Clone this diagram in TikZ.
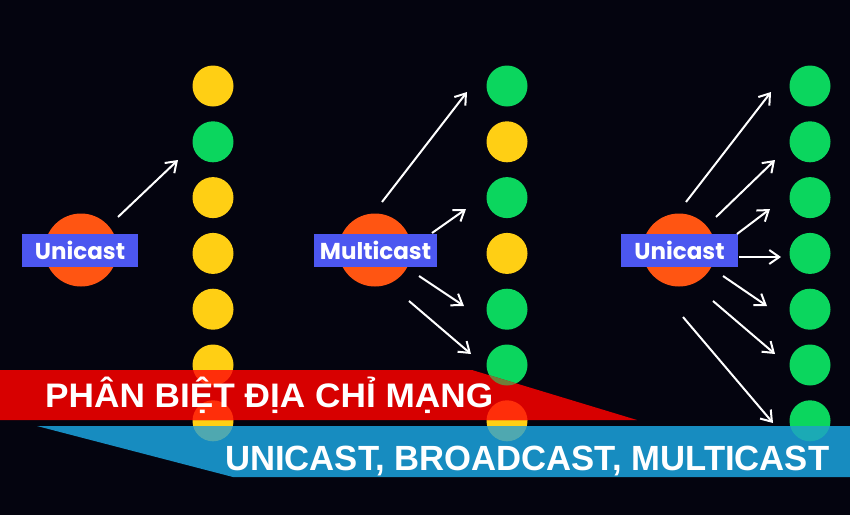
\documentclass[tikz,border=0pt]{standalone}
\usepackage{fontspec}
\usepackage{graphicx}
\usetikzlibrary{arrows.meta}
\newfontfamily\bannerfont{Liberation Sans}
\newfontfamily\lblfont{Poppins}
\definecolor{bgc}{HTML}{04040F}
\definecolor{dotY}{HTML}{FFCF14}
\definecolor{dotG}{HTML}{0BD65E}
\definecolor{srcO}{HTML}{FF5512}
\definecolor{lblB}{HTML}{4C57F0}
\definecolor{banR}{HTML}{D70000}
\definecolor{banB}{HTML}{178CC0}
\definecolor{YonR}{HTML}{FF2E0A}
\definecolor{GonR}{HTML}{6E7E3A}
\definecolor{YonB}{HTML}{4FA8B0}
\definecolor{GonB}{HTML}{1BAAB5}
\tikzset{
  dot/.style={circle, minimum size=41pt, inner sep=0pt, fill=#1},
  src/.style={circle, minimum size=73pt, inner sep=0pt, fill=srcO},
  lbl/.style={fill=lblB, text=white, minimum height=33pt, inner sep=0pt, font=\lblfont\bfseries\fontsize{23}{26}\selectfont},
  arr/.style={white, line width=2pt, -{Straight Barb[length=10pt,width=14pt,line width=2pt]}},
  bantext/.style={text=white, inner sep=0pt, anchor=base west}
}
\begin{document}
\begin{tikzpicture}[x=1pt,y=-1pt]
\fill[bgc] (0,0) rectangle (850,515);
\useasboundingbox (0,0) rectangle (850,515);
% dot columns
\foreach \c/\i in {dotY/1,dotG/2,dotY/3,dotY/4,dotY/5,dotY/6,dotY/7}{
  \node[dot=\c] (L\i) at (213,{86+55.8*(\i-1)}) {};}
\foreach \c/\i in {dotG/1,dotY/2,dotG/3,dotY/4,dotG/5,dotG/6,dotY/7}{
  \node[dot=\c] (M\i) at (507,{86+55.8*(\i-1)}) {};}
\foreach \i in {1,...,7}{
  \node[dot=dotG] (R\i) at (810,{86+55.8*(\i-1)}) {};}
% sources
\node[src] (SL) at (81,250) {};
\node[src] (SM) at (375,250) {};
\node[src] (SR) at (679,250) {};
\node[lbl, minimum width=116pt] (TL) at (80,250.5) {Unicast};
\node[lbl, minimum width=123pt] (TM) at (375.5,250.5) {Multicast};
\node[lbl, minimum width=117pt] (TR) at (679.5,250.5) {Unicast};
% arrows left
\coordinate (l1s) at (118,217); \coordinate (l1e) at (178,160);
\draw[arr] (l1s) -- (l1e);
% arrows middle
\coordinate (m1s) at (382,202); \coordinate (m1e) at (467,92);
\coordinate (m2s) at (432,233); \coordinate (m2e) at (466,209);
\coordinate (m3s) at (419,276); \coordinate (m3e) at (464,306);
\coordinate (m4s) at (409,301); \coordinate (m4e) at (471,354);
\foreach \k in {1,...,4}{\draw[arr] (m\k s) -- (m\k e);}
% arrows right
\coordinate (r1s) at (686,202); \coordinate (r1e) at (771,92);
\coordinate (r2s) at (716,217); \coordinate (r2e) at (775,160);
\coordinate (r3s) at (737,234); \coordinate (r3e) at (770,209);
\coordinate (r4s) at (739,257); \coordinate (r4e) at (781,257);
\coordinate (r5s) at (723,276); \coordinate (r5e) at (767,306);
\coordinate (r6s) at (713,301); \coordinate (r6e) at (775,354);
\coordinate (r7s) at (683,317); \coordinate (r7e) at (773,423);
\foreach \k in {1,...,7}{\draw[arr] (r\k s) -- (r\k e);}
% banners
\fill[banR] (0,370) -- (472,370) -- (637,420) -- (0,420) -- cycle;
\begin{scope}
  \clip (0,370) -- (472,370) -- (637,420) -- (0,420) -- cycle;
  \fill[YonR] (L6) circle (20.5pt);
  \fill[YonR] (L7) circle (20.5pt);
  \fill[GonR] (M6) circle (20.5pt);
  \fill[YonR] (M7) circle (20.5pt);
\end{scope}
\fill[banB] (37,426) -- (850,426) -- (850,477) -- (233,477) -- cycle;
\begin{scope}
  \clip (37,426) -- (850,426) -- (850,477) -- (233,477) -- cycle;
  \fill[YonB] (L7) circle (20.5pt);
  \fill[YonB] (M7) circle (20.5pt);
  \fill[GonB] (R7) circle (20.5pt);
\end{scope}
\node[bantext] (T1) at (45,407) {\resizebox{448pt}{\height}{\bannerfont\bfseries\fontsize{34}{40}\selectfont PHÂN BIỆT ĐỊA CHỈ MẠNG}};
\node[bantext] (T2) at (225,470) {\resizebox{604pt}{\height}{\bannerfont\bfseries\fontsize{35}{40}\selectfont UNICAST, BROADCAST, MULTICAST}};
\end{tikzpicture}
\end{document}
